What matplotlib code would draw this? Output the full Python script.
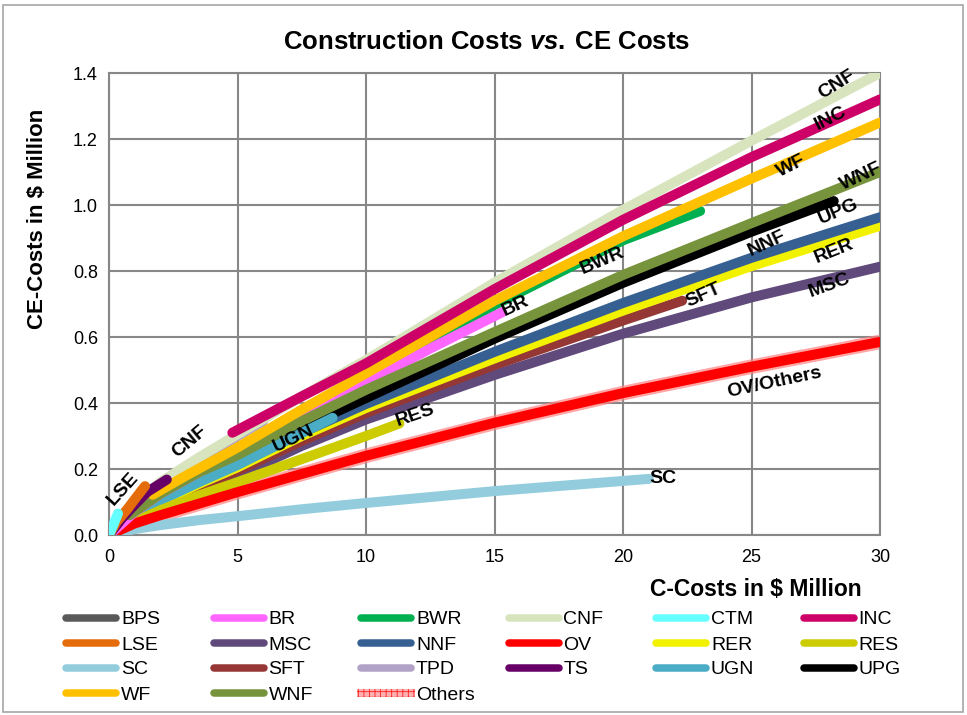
"""
plot.py

Construction costs vs. CE costs, one curve per project type.
C-Costs and CE-Costs both in $ Million; curve names written on the lines,
legend drawn by hand in six fixed columns (like the Excel original).

Output: out.png (967 x 715 px)
"""

import matplotlib
matplotlib.use("Agg")
import matplotlib.pyplot as plt
from matplotlib.lines import Line2D
from matplotlib.patches import Rectangle

plt.rcParams["font.family"] = ["Liberation Sans", "DejaVu Sans"]
plt.rcParams["hatch.linewidth"] = 0.6
plt.rcParams["mathtext.fontset"] = "custom"
plt.rcParams["mathtext.it"] = "Liberation Sans:italic:bold"
plt.rcParams["mathtext.rm"] = "Liberation Sans:bold"

# ---- data: C-Costs ($M) -> CE-Costs ($M) ----
BPS_X = [0, 1, 2, 3.5, 5, 7.5, 10]
BPS_Y = [0, 0.068, 0.117, 0.176, 0.222, 0.318, 0.405]

BR_X = [0, 1, 2, 3.5, 5, 7.5, 10, 12.5, 15.3]
BR_Y = [0, 0.07, 0.125, 0.19, 0.25, 0.355, 0.46, 0.565, 0.675]

BWR_X = [0, 1, 2, 3.5, 5, 7.5, 10, 15, 20, 23]
BWR_Y = [0, 0.075, 0.13, 0.195, 0.255, 0.37, 0.477, 0.697, 0.893, 0.982]

CNF_X = [0, 0.5, 1, 2, 3.5, 5, 7.5, 10, 15, 20, 25, 30]
CNF_Y = [0, 0.06, 0.097, 0.16, 0.235, 0.305, 0.42, 0.53, 0.765, 0.985, 1.195, 1.40]

CTM_X = [0, 0.35]
CTM_Y = [0, 0.065]

INC_X = [4.8, 7.5, 10, 15, 20, 25, 30]
INC_Y = [0.31, 0.42, 0.52, 0.745, 0.955, 1.145, 1.32]

LSE_X = [0, 0.3, 0.7, 1.1, 1.4]
LSE_Y = [0, 0.04, 0.077, 0.118, 0.148]

MSC_X = [0, 1, 2, 3.5, 5, 7.5, 10, 15, 20, 25, 30]
MSC_Y = [0, 0.045, 0.088, 0.135, 0.18, 0.27, 0.35, 0.485, 0.61, 0.72, 0.813]

NNF_X = [0, 1, 2, 3.5, 5, 7.5, 10, 15, 20, 25, 30]
NNF_Y = [0, 0.06, 0.11, 0.165, 0.215, 0.31, 0.397, 0.555, 0.703, 0.84, 0.963]

OV_X = [0, 1, 2, 3.5, 5, 7.5, 10, 15, 20, 25, 30]
OV_Y = [0, 0.035, 0.06, 0.095, 0.13, 0.185, 0.24, 0.34, 0.43, 0.51, 0.585]

RER_X = [0, 1, 2, 3.5, 5, 7.5, 10, 15, 20, 25, 30]
RER_Y = [0, 0.055, 0.10, 0.155, 0.205, 0.30, 0.385, 0.535, 0.68, 0.815, 0.937]

RES_X = [0, 1, 2, 3.5, 5, 7.5, 10, 11.3]
RES_Y = [0, 0.04, 0.075, 0.12, 0.16, 0.23, 0.30, 0.338]

SC_X = [0, 1, 2, 3.5, 5, 7.5, 10, 15, 21]
SC_Y = [0, 0.018, 0.03, 0.045, 0.057, 0.078, 0.097, 0.133, 0.17]

SFT_X = [0, 1, 2, 3.5, 5, 7.5, 10, 15, 20, 22.3]
SFT_Y = [0, 0.05, 0.095, 0.145, 0.195, 0.285, 0.37, 0.515, 0.65, 0.71]

TPD_X = [0, 1, 2, 3.5, 5, 6]
TPD_Y = [0, 0.085, 0.14, 0.22, 0.30, 0.345]

TS_X = [0, 0.5, 1, 1.5, 2.25]
TS_Y = [0, 0.05, 0.092, 0.131, 0.168]

UGN_X = [0, 1, 2, 3.5, 5, 7, 8.7]
UGN_Y = [0, 0.06, 0.105, 0.16, 0.212, 0.29, 0.355]

UPG_X = [0, 1, 2, 3.5, 5, 7.5, 10, 15, 20, 25, 28.2]
UPG_Y = [0, 0.07, 0.12, 0.18, 0.227, 0.325, 0.415, 0.595, 0.764, 0.919, 1.012]

WF_X = [1.7, 3, 5, 7.5, 10, 15, 20, 25, 30]
WF_Y = [0.122, 0.18, 0.265, 0.38, 0.49, 0.71, 0.905, 1.08, 1.25]

WNF_X = [0.8, 2, 3.5, 5, 7.5, 10, 15, 20, 25, 30]
WNF_Y = [0.06, 0.125, 0.19, 0.242, 0.345, 0.44, 0.615, 0.788, 0.945, 1.10]

# "Others" sits on the same curve as OV (labelled "OV/Others")
OTHERS_X = OV_X
OTHERS_Y = OV_Y

X_TICKS = [0, 5, 10, 15, 20, 25, 30]
Y_TICKS = [0.0, 0.2, 0.4, 0.6, 0.8, 1.0, 1.2, 1.4]

# legend order (row-major, 6 per row)
SERIES = [
    ("BPS", BPS_X, BPS_Y, "#595959"),
    ("BR", BR_X, BR_Y, "#FF66FF"),
    ("BWR", BWR_X, BWR_Y, "#00B050"),
    ("CNF", CNF_X, CNF_Y, "#D7E4BD"),
    ("CTM", CTM_X, CTM_Y, "#66FFFF"),
    ("INC", INC_X, INC_Y, "#CC0066"),
    ("LSE", LSE_X, LSE_Y, "#E46C0A"),
    ("MSC", MSC_X, MSC_Y, "#604A7B"),
    ("NNF", NNF_X, NNF_Y, "#376092"),
    ("OV", OV_X, OV_Y, "#FF0000"),
    ("RER", RER_X, RER_Y, "#F2F200"),
    ("RES", RES_X, RES_Y, "#CCCC00"),
    ("SC", SC_X, SC_Y, "#93CDDD"),
    ("SFT", SFT_X, SFT_Y, "#953735"),
    ("TPD", TPD_X, TPD_Y, "#B3A2C7"),
    ("TS", TS_X, TS_Y, "#660066"),
    ("UGN", UGN_X, UGN_Y, "#4BACC6"),
    ("UPG", UPG_X, UPG_Y, "#000000"),
    ("WF", WF_X, WF_Y, "#FFC000"),
    ("WNF", WNF_X, WNF_Y, "#77933C"),
    ("Others", OTHERS_X, OTHERS_Y, "#FF8080"),
]

# bottom -> top
DRAW_ORDER = ["Others", "BPS", "TPD", "SC", "MSC", "SFT", "RER", "NNF", "UPG",
              "UGN", "RES", "OV", "BWR", "BR", "WNF", "CNF", "WF", "INC",
              "TS", "LSE", "CTM"]

# on-line labels: text, x, y (data units), rotation
LINE_LABELS = [
    ("CNF", 28.31, 1.364, 32),
    ("INC", 28.08, 1.263, 27),
    ("WF", 26.56, 1.119, 27),
    ("WNF", 29.25, 1.086, 25),
    ("UPG", 28.40, 0.980, 23),
    ("NNF", 25.61, 0.882, 25),
    ("RER", 28.21, 0.861, 22),
    ("MSC", 28.02, 0.755, 20),
    ("SFT", 23.12, 0.725, 24),
    ("BWR", 19.19, 0.831, 23),
    ("BR", 15.82, 0.695, 25),
    ("RES", 11.93, 0.362, 19),
    ("UGN", 7.20, 0.291, 25),
    ("CNF", 3.15, 0.283, 40),
    ("LSE", 0.56, 0.139, 48),
    ("OV/Others", 25.91, 0.461, 12),
    ("SC", 21.56, 0.170, 0),
]

GRID_GRAY = "#878787"
W, H = 967, 715


def px(x, y):
    """pixel (from top-left) -> figure fraction"""
    return x / W, 1 - y / H


def draw_legend(fig):
    col_x = [62, 209.5, 357, 504.5, 652, 799.5]
    row_y = [618, 643, 668, 693]
    handle_len = 58
    for i, (name, _, _, color) in enumerate(SERIES):
        x0 = col_x[i % 6]
        y0 = row_y[i // 6]
        fx0, fy = px(x0 + 4, y0)
        fx1, _ = px(x0 + handle_len - 4, y0)
        if name == "Others":
            rx, ry = px(x0, y0 + 4)
            fig.patches.append(Rectangle(
                (rx, ry), handle_len / W, 8 / H, transform=fig.transFigure,
                facecolor="#FFB0B0", edgecolor="#FF2020", hatch="+++", lw=0,
            ))
        else:
            fig.add_artist(Line2D([fx0, fx1], [fy, fy], transform=fig.transFigure,
                                  color=color, lw=5.4, solid_capstyle="round"))
        tx, ty = px(x0 + handle_len + 1, y0)
        fig.text(tx, ty, name, fontsize=14, ha="left", va="center_baseline")


def main():
    fig = plt.figure(figsize=(W / 100, H / 100), dpi=100)
    ax = fig.add_axes([109 / W, 1 - 535 / H, 771 / W, 462 / H])

    lookup = {s[0]: s for s in SERIES}
    for z, name in enumerate(DRAW_ORDER):
        _, xs, ys, color = lookup[name]
        if name == "Others":
            ax.plot(xs, ys, color=color, lw=10.5, alpha=0.7,
                    solid_capstyle="butt", zorder=2 + z)
        else:
            ax.plot(xs, ys, color=color, lw=7.2,
                    solid_capstyle="round", solid_joinstyle="round", zorder=2 + z)

    for text, x, y, rot in LINE_LABELS:
        ax.text(x, y, text, fontsize=14, fontweight="bold", rotation=rot,
                rotation_mode="anchor", ha="center", va="center", zorder=50)

    ax.set_xlim(0, 30)
    ax.set_ylim(0, 1.4)
    ax.set_xticks(X_TICKS)
    ax.set_yticks(Y_TICKS)
    ax.set_xticklabels([f"{v:g}" for v in X_TICKS])
    ax.set_yticklabels([f"{v:.1f}" for v in Y_TICKS])
    ax.tick_params(length=0, labelsize=13, pad=8)
    ax.tick_params(axis="x", pad=10)
    ax.grid(True, color=GRID_GRAY, lw=1.5, zorder=0)
    ax.set_axisbelow(True)
    for sp in ax.spines.values():
        sp.set_color(GRID_GRAY)
        sp.set_linewidth(1.5)

    tx, ty = px(487, 42)
    fig.text(tx, ty, "Construction Costs $\\mathit{vs.}$\u2009CE Costs", ha="center",
             va="center", fontsize=18.5, fontweight="bold")
    tx, ty = px(38, 219)
    fig.text(tx, ty, "CE-Costs in $ Million", rotation=90, ha="center", va="center",
             fontsize=16, fontweight="bold")
    tx, ty = px(862, 589)
    fig.text(tx, ty, "C-Costs in $ Million", ha="right", va="center",
             fontsize=16.5, fontweight="bold")

    draw_legend(fig)

    bx, by = px(3, 712)
    fig.patches.append(Rectangle((bx, by), 960 / W, 707 / H, transform=fig.transFigure,
                                 fill=False, edgecolor="#A6A6A6", lw=1.2))

    fig.savefig("out.png", dpi=100, facecolor="white")
    plt.close(fig)


if __name__ == "__main__":
    main()
